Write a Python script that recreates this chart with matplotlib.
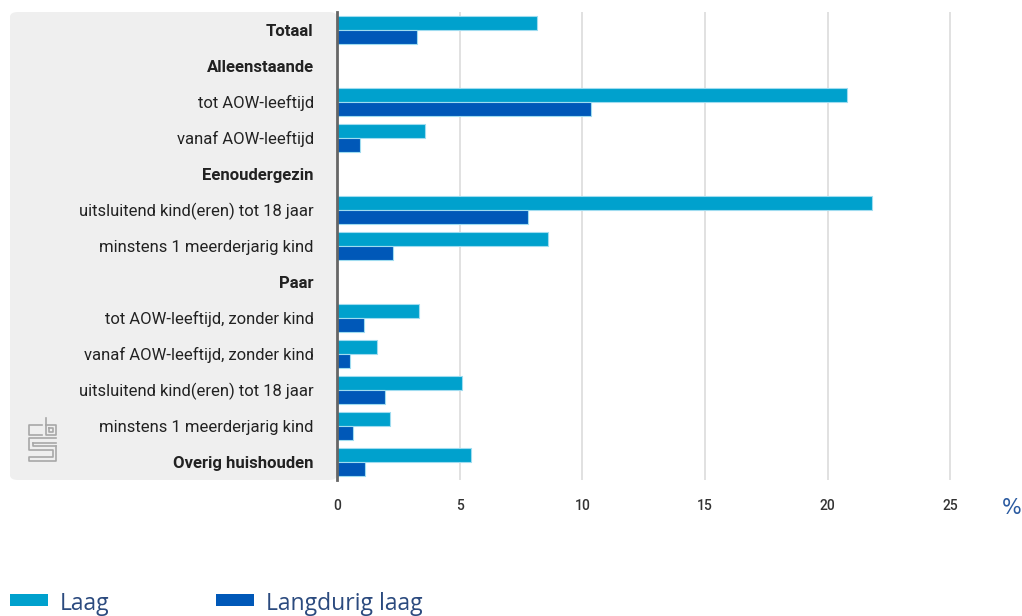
import matplotlib.pyplot as plt
from matplotlib.patches import FancyBboxPatch, Rectangle
from matplotlib.lines import Line2D
import numpy as np

categories = [
    "Totaal",
    "Alleenstaande",
    "tot AOW-leeftijd",
    "vanaf AOW-leeftijd",
    "Eenoudergezin",
    "uitsluitend kind(eren) tot 18 jaar",
    "minstens 1 meerderjarig kind",
    "Paar",
    "tot AOW-leeftijd, zonder kind",
    "vanaf AOW-leeftijd, zonder kind",
    "uitsluitend kind(eren) tot 18 jaar",
    "minstens 1 meerderjarig kind",
    "Overig huishouden",
]
bold_rows = {"Totaal", "Alleenstaande", "Eenoudergezin", "Paar", "Overig huishouden"}

# None = heading row without bars
laag = [8.15, None, 20.8, 3.6, None, 21.8, 8.6, None, 3.35, 1.65, 5.1, 2.15, 5.45]
langdurig_laag = [3.25, None, 10.35, 0.95, None, 7.8, 2.3, None, 1.1, 0.55, 1.95, 0.65, 1.15]

series_names = ["Laag", "Langdurig laag"]
colors = ["#00a1cd", "#0058b8"]
label_font = ["Roboto", "DejaVu Sans"]

W, H = 1022, 616
fig = plt.figure(figsize=(W / 100, H / 100), dpi=100)

# grey label panel behind the category names
panel = FancyBboxPatch((10 / W, 1 - 480 / H), (337 - 10) / W, (480 - 12) / H,
                       boxstyle="round,pad=0,rounding_size=0.008",
                       transform=fig.transFigure, facecolor="#efefef",
                       edgecolor="none", zorder=-1)
fig.patches.append(panel)

ax = fig.add_axes([337 / W, 1 - 480 / H, (975 - 337) / W, (480 - 12) / H])
ax.set_facecolor("none")

n = len(categories)
y = np.arange(n)
h = 0.39
for vals, off, col in zip([laag, langdurig_laag], [-h / 2 - 0.005, h / 2 + 0.005], colors):
    for yi, v in zip(y, vals):
        if v is None:
            continue
        ax.barh(yi + off, v, height=h, color=col, edgecolor="#9fdcf0",
                linewidth=0.8, zorder=3)

ax.set_ylim(n - 0.5, -0.5)
ax.set_xlim(0, 26)
ax.set_xticks([0, 5, 10, 15, 20, 25])
ax.set_xticklabels(["0", "5", "10", "15", "20", "25"], fontsize=10,
                   color="#333333", family=label_font, fontweight="medium")
ax.tick_params(axis="x", length=0, pad=14)
ax.set_yticks(y)
ax.set_yticklabels([])
ax.tick_params(axis="y", length=0)
ax.grid(axis="x", color="#dcdcdc", linewidth=1.2, zorder=0)

for s in ["top", "right", "bottom"]:
    ax.spines[s].set_visible(False)
ax.spines["left"].set_color("#666666")
ax.spines["left"].set_linewidth(2)
ax.spines["left"].set_zorder(4)

for yi, cat in zip(y, categories):
    ax.text(-0.95, yi + 0.04, cat, ha="right", va="center", fontsize=12,
            color="#222222", family=label_font,
            fontweight="bold" if cat in bold_rows else "normal",
            transform=ax.transData, clip_on=False)

fig.text(1012 / W, 1 - 508 / H, "%", ha="center", va="center",
         fontsize=15, color="#2a5aa0")

# small cbs mark in the panel corner
logo_col = "#a8a8a8"
def seg(xs, ys):
    fig.add_artist(Line2D([x / W for x in xs], [1 - v / H for v in ys],
                          color=logo_col, linewidth=1.2, transform=fig.transFigure))
seg([42, 29, 29, 42], [425, 425, 435, 435])
seg([46, 46, 56, 56, 46], [418, 435, 435, 425, 425])
seg([49, 53, 53, 49, 49], [428, 428, 432, 432, 428])
seg([56, 29, 29, 53, 53, 29, 29, 56, 56], [438, 438, 450, 450, 457, 457, 461, 461, 446])
seg([56, 33, 33], [446, 446, 443])
seg([33, 56], [443, 443])

# legend along the bottom edge
for i, (name, col) in enumerate(zip(series_names, colors)):
    x0 = 10 + i * 206
    fig.patches.append(Rectangle((x0 / W, 1 - 606 / H), 38 / W, 12 / H,
                                 transform=fig.transFigure, facecolor=col,
                                 edgecolor="none"))
    fig.text((x0 + 50) / W, 1 - 610 / H, name, ha="left", va="baseline",
             fontsize=16.5, color="#2b4a7e", family="Open Sans")

fig.savefig("out.png", dpi=100)
